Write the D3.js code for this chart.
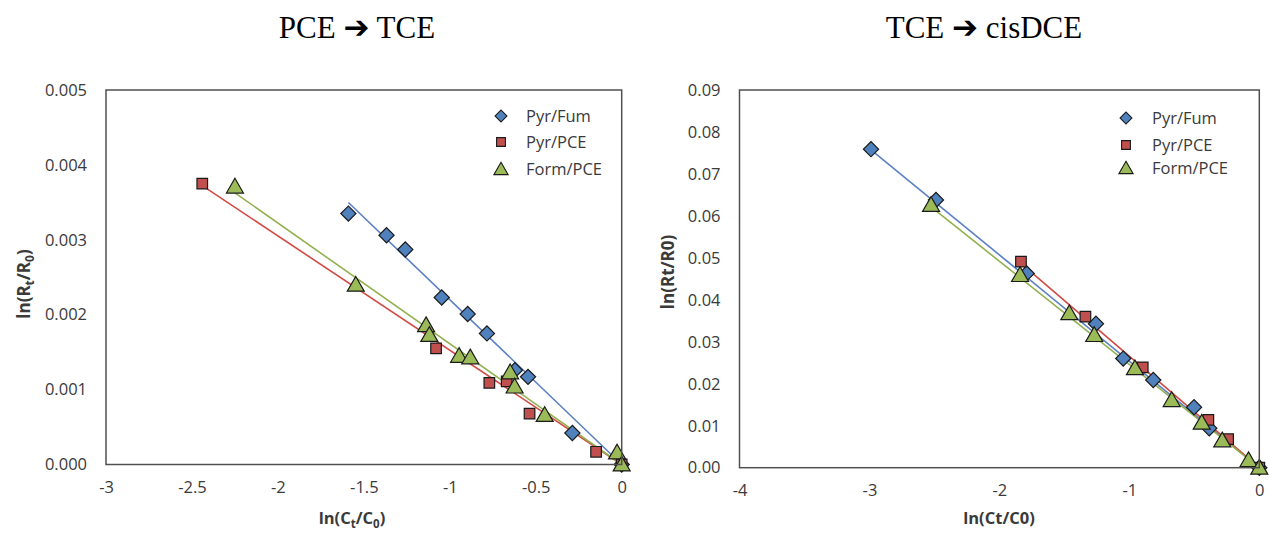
<!DOCTYPE html>
<html>
<head>
<meta charset="utf-8">
<script src="https://cdn.jsdelivr.net/npm/d3@7"></script>
<style>
  html, body { margin: 0; padding: 0; background: #fff; }
  svg { display: block; }
</style>
</head>
<body>
<svg id="chart" width="1269" height="534"></svg>
<script>
// ---------- DATA ----------
const seriesNames = ["Pyr/Fum", "Pyr/PCE", "Form/PCE"];

// Left panel: PCE -> TCE
const leftTitle = "PCE";
const leftTitle2 = "TCE";
const leftXTicks = [-3, -2.5, -2, -1.5, -1, -0.5, 0];
const leftYTicks = [0, 0.001, 0.002, 0.003, 0.004, 0.005];
const leftPyrFumX = [-1.59, -1.368, -1.259, -1.047, -0.896, -0.784, -0.621, -0.545, -0.287, 0];
const leftPyrFumY = [0.00335, 0.00306, 0.00287, 0.00223, 0.00201, 0.00175, 0.00126, 0.00117, 0.00042, 0];
const leftPyrPceX = [-2.44, -1.08, -0.77, -0.669, -0.536, -0.149, 0];
const leftPyrPceY = [0.00375, 0.00155, 0.00109, 0.00111, 0.00068, 0.00017, 0];
const leftFormPceX = [-2.25, -1.547, -1.138, -1.119, -0.946, -0.881, -0.649, -0.623, -0.448, -0.027, 0];
const leftFormPceY = [0.00371, 0.0024, 0.00186, 0.00173, 0.00145, 0.00143, 0.00123, 0.00104, 0.00066, 0.00016, 0];
// fitted lines through origin: slope and start x
const leftFitSlope = [-0.0022, -0.001526, -0.001612];
const leftFitStart = [-1.59, -2.44, -2.25];

// Right panel: TCE -> cisDCE
const rightTitle = "TCE";
const rightTitle2 = "cisDCE";
const rightXTicks = [-4, -3, -2, -1, 0];
const rightYTicks = [0, 0.01, 0.02, 0.03, 0.04, 0.05, 0.06, 0.07, 0.08, 0.09];
const rightPyrFumX = [-2.988, -2.488, -1.79, -1.257, -1.047, -0.816, -0.502, -0.385, 0];
const rightPyrFumY = [0.0759, 0.0638, 0.0463, 0.0343, 0.0260, 0.0209, 0.0144, 0.0094, 0];
const rightPyrPceX = [-1.834, -1.338, -0.897, -0.392, -0.24, 0];
const rightPyrPceY = [0.0491, 0.0360, 0.0239, 0.0114, 0.0068, 0];
const rightFormPceX = [-2.526, -1.841, -1.462, -1.27, -0.957, -0.674, -0.443, -0.285, -0.083, 0];
const rightFormPceY = [0.0626, 0.0459, 0.0368, 0.0316, 0.0237, 0.0161, 0.0107, 0.0065, 0.0018, 0];
const rightFitSlope = [-0.02535, -0.02656, -0.0246];
const rightFitStart = [-2.988, -1.834, -2.526];

// ---------- STYLE ----------
const fills = ["#4F81BD", "#C0504D", "#9BBB59"];
const lineColors = ["#5B80C4", "#D24A44", "#93B04E"];
const FONT = "'Open Sans', 'Liberation Sans', sans-serif";

// diamond = square rotated 45deg
function markerPath(i, size) {
  if (i === 2) return d3.symbol().type(d3.symbolTriangle).size(size)();
  return d3.symbol().type(d3.symbolSquare).size(size)();
}
const plotSizes = [115, 112, 125];
const legendSizes = [70, 78, 88];

const svg = d3.select("#chart");

function addRich(textSel, parts, subSize, subShift) {
  parts.forEach(p => {
    const sp = textSel.append("tspan").text(p[0]);
    if (p[1]) sp.attr("font-size", subSize).attr("dy", subShift);
    else if (p[2]) sp.attr("dy", -subShift);
  });
}

function panel(cfg) {
  const x = d3.scaleLinear().domain(cfg.xDomain).range([cfg.left, cfg.right]);
  const y = d3.scaleLinear().domain(cfg.yDomain).range([cfg.bottom, cfg.top]);
  const g = svg.append("g");

  // title
  const t = g.append("text")
    .attr("x", cfg.titleX).attr("y", 38)
    .attr("text-anchor", "middle")
    .attr("font-family", "'Liberation Serif', 'Times New Roman', serif")
    .attr("font-size", 31).attr("fill", "#000");
  t.append("tspan").text(cfg.t1 + " ");
  t.append("tspan").attr("font-family", "'DejaVu Sans', sans-serif").attr("font-size", 31).attr("dy", 0).text("\u2794");
  t.append("tspan").text(" " + cfg.t2);

  // axes (labels only)
  const xAxis = d3.axisBottom(x).tickValues(cfg.xTicks).tickSize(0).tickPadding(17);
  const gx = g.append("g").attr("transform", `translate(0,${cfg.bottom})`).call(xAxis);
  const yAxis = d3.axisLeft(y).tickValues(cfg.yTicks).tickSize(0).tickPadding(19)
    .tickFormat(d3.format(cfg.yFmt));
  const gy = g.append("g").attr("transform", `translate(${cfg.left},0)`).call(yAxis);
  [gx, gy].forEach(a => {
    a.select(".domain").remove();
    a.selectAll("text").attr("font-family", FONT).attr("font-size", 16.5).attr("fill", "#3a3a3a");
  });
  gx.selectAll("text").text(d => String(d));

  // fit lines
  cfg.fitSlope.forEach((s, i) => {
    const x0 = cfg.fitStart[i];
    g.append("line")
      .attr("x1", x(x0)).attr("y1", y(s * x0))
      .attr("x2", x(0)).attr("y2", y(0))
      .attr("stroke", lineColors[i]).attr("stroke-width", 1.6);
  });

  // markers
  cfg.series.forEach((s, i) => {
    const pts = s.xs.map((v, k) => [v, s.ys[k]]);
    g.append("g").selectAll("path").data(pts).join("path")
      .attr("transform", d => `translate(${x(d[0])},${y(d[1]) + (i === 2 ? 1.5 : 0)})` + (i === 0 ? " rotate(45)" : ""))
      .attr("d", markerPath(i, plotSizes[i]))
      .attr("fill", fills[i]).attr("stroke", "#1a1a1a").attr("stroke-width", 1.2);
  });

  // frame
  g.append("rect")
    .attr("x", cfg.left).attr("y", cfg.top)
    .attr("width", cfg.right - cfg.left).attr("height", cfg.bottom - cfg.top)
    .attr("fill", "none").attr("stroke", "#505050").attr("stroke-width", 1.5);

  // legend
  seriesNames.forEach((name, i) => {
    const ly = cfg.legendY[i];
    g.append("path")
      .attr("transform", `translate(${cfg.legendMX},${ly + (i === 2 ? 1.5 : 0)})` + (i === 0 ? " rotate(45)" : ""))
      .attr("d", markerPath(i, legendSizes[i]))
      .attr("fill", fills[i]).attr("stroke", "#1a1a1a").attr("stroke-width", 1.1);
    g.append("text")
      .attr("x", cfg.legendTX).attr("y", ly).attr("dy", "0.35em")
      .attr("font-family", FONT).attr("font-size", 16.5).attr("fill", "#3a3a3a")
      .text(name);
  });

  // x title
  const xt = g.append("text")
    .attr("x", cfg.xTitleX).attr("y", 524)
    .attr("text-anchor", "middle")
    .attr("font-family", FONT).attr("font-size", 16.5).attr("font-weight", "bold").attr("fill", "#3a3a3a");
  addRich(xt, cfg.xTitle, 11.5, 4);

  // y title
  const yt = g.append("text")
    .attr("transform", `translate(${cfg.yTitleX},${cfg.yTitleY}) rotate(-90)`)
    .attr("text-anchor", "middle")
    .attr("font-family", FONT).attr("font-size", 17).attr("font-weight", "bold").attr("fill", "#3a3a3a");
  addRich(yt, cfg.yTitle, 12, 4);
}

panel({
  xDomain: [-3, 0], yDomain: [0, 0.005],
  left: 106, right: 621.7, top: 90, bottom: 464.5,
  xTicks: leftXTicks, yTicks: leftYTicks, yFmt: ".3f",
  t1: leftTitle, t2: leftTitle2, titleX: 357,
  series: [
    { xs: leftPyrFumX, ys: leftPyrFumY },
    { xs: leftPyrPceX, ys: leftPyrPceY },
    { xs: leftFormPceX, ys: leftFormPceY }
  ],
  fitSlope: leftFitSlope, fitStart: leftFitStart,
  legendMX: 501, legendTX: 526, legendY: [116, 142, 169],
  xTitleX: 352, xTitle: [["ln(C"], ["t", true], ["/C", false, true], ["0", true], [")", false, true]],
  yTitleX: 30, yTitleY: 284, yTitle: [["ln(R"], ["t", true], ["/R", false, true], ["0", true], [")", false, true]]
});

panel({
  xDomain: [-4, 0], yDomain: [0, 0.09],
  left: 739.5, right: 1259.3, top: 90, bottom: 467.7,
  xTicks: rightXTicks, yTicks: rightYTicks, yFmt: ".2f",
  t1: rightTitle, t2: rightTitle2, titleX: 984,
  series: [
    { xs: rightPyrFumX, ys: rightPyrFumY },
    { xs: rightPyrPceX, ys: rightPyrPceY },
    { xs: rightFormPceX, ys: rightFormPceY }
  ],
  fitSlope: rightFitSlope, fitStart: rightFitStart,
  legendMX: 1126, legendTX: 1152, legendY: [118, 145, 168],
  xTitleX: 999, xTitle: [["ln(Ct/C0)"]],
  yTitleX: 674, yTitleY: 272, yTitle: [["ln(Rt/R0)"]]
});
</script>
</body>
</html>
